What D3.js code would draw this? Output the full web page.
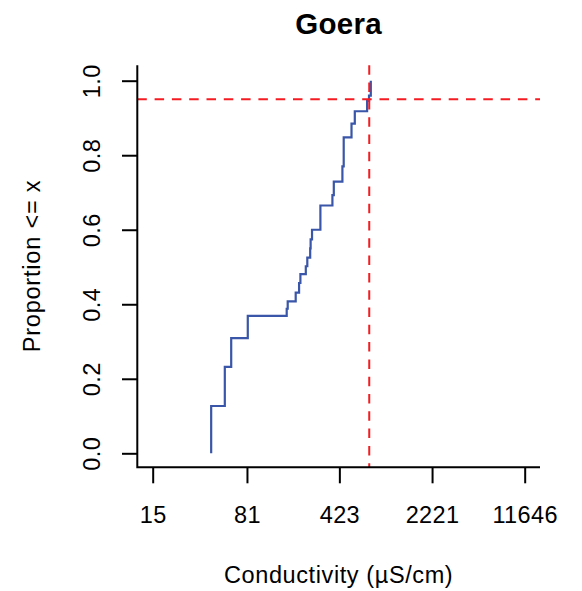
<!DOCTYPE html>
<html><head><meta charset="utf-8">
<script src="https://cdn.jsdelivr.net/npm/d3@7"></script>
<style>body{margin:0;background:#fff} svg text{font-family:"Liberation Sans",Arial,Helvetica,sans-serif;fill:#000}</style>
</head><body><svg id="c" width="582" height="591"></svg>
<script>
// ---- data ----
const chartTitle = "Goera";
const xLabel = "Conductivity (µS/cm)";
const yLabel = "Proportion <= x";
const conductivity = [42.7, 54.5, 61.1, 82.2, 164.9, 167.9, 193.7, 205.8, 210.7, 232.1, 238.4, 251.0, 253.0, 259.4, 301.3, 373.6, 383.0, 446.7, 457.2, 525.7, 557.6, 695.0, 719.0, 742.5];
const proportion   = [0.127, 0.232, 0.309, 0.369, 0.388, 0.408, 0.431, 0.457, 0.481, 0.502, 0.525, 0.550, 0.574, 0.600, 0.665, 0.693, 0.729, 0.770, 0.848, 0.885, 0.918, 0.946, 0.960, 1.0];
const xTickLabels = [15, 81, 423, 2221, 11646];
const yTickValues = [0, 0.2, 0.4, 0.6, 0.8, 1.0];
const refProportion = 0.95;
const refConductivity = 722;
const xLimits = [11.39, 15315];
const yLimits = [0, 1];

// ---- layout ----
const plot = {left: 137.3, right: 540, top: 65.3, bottom: 467.3};
const svg = d3.select("#c");
const x = d3.scaleLog().domain(xLimits).range([plot.left, plot.right]);
const y = d3.scaleLinear().domain(yLimits).range([453.3, 80.7]);
const fontSize = 23.5, ls = 0.4;
const ff = '"Liberation Sans",Arial,Helvetica,sans-serif';

// ECDF step line
const pts = [[conductivity[0], 0]].concat(conductivity.map((c, i) => [c, proportion[i]]));
const line = d3.line().x(d => x(d[0])).y(d => y(d[1])).curve(d3.curveStepAfter);
svg.append("path").attr("d", line(pts))
  .attr("fill", "none").attr("stroke", "#3a56a8").attr("stroke-width", 2.2);

// reference dashed lines
svg.append("line").attr("x1", plot.left).attr("x2", plot.right)
  .attr("y1", y(refProportion)).attr("y2", y(refProportion))
  .attr("stroke", "#f41c22").attr("stroke-width", 2).attr("stroke-dasharray", "9.5,7.8");
svg.append("line").attr("x1", x(refConductivity)).attr("x2", x(refConductivity))
  .attr("y1", plot.top).attr("y2", plot.bottom)
  .attr("stroke", "#f41c22").attr("stroke-width", 2).attr("stroke-dasharray", "9.5,7.8");

// L box
svg.append("path")
  .attr("d", `M${plot.left},${plot.top}V${plot.bottom}H${plot.right}`)
  .attr("fill", "none").attr("stroke", "#000").attr("stroke-width", 2);

// x axis
const gx = svg.append("g").attr("transform", `translate(0,${plot.bottom})`)
  .call(d3.axisBottom(x).tickValues(xTickLabels).tickFormat(d3.format("d")).tickSize(16).tickSizeOuter(0));
gx.select(".domain").remove();
gx.selectAll(".tick line").attr("stroke", "#000").attr("stroke-width", 2);
gx.selectAll(".tick text").attr("y", 55.3).attr("dy", null)
  .attr("font-size", fontSize).attr("letter-spacing", ls).attr("fill", "#000")
  .style("font-family", ff);

// y axis
const gy = svg.append("g").attr("transform", `translate(${plot.left},0)`)
  .call(d3.axisLeft(y).tickValues(yTickValues).tickFormat(d3.format(".1f")).tickSize(15.3).tickSizeOuter(0));
gy.select(".domain").remove();
gy.selectAll(".tick line").attr("stroke", "#000").attr("stroke-width", 2);
gy.selectAll(".tick text").attr("x", 0).attr("dy", null)
  .attr("transform", "translate(-37,0) rotate(-90)")
  .attr("text-anchor", "middle")
  .attr("font-size", fontSize).attr("letter-spacing", ls).attr("fill", "#000")
  .style("font-family", ff);

// titles
svg.append("text").attr("x", (plot.left + plot.right) / 2).attr("y", 33.5)
  .attr("text-anchor", "middle").attr("font-size", 29.5).attr("font-weight", "bold")
  .attr("letter-spacing", 0.3).text(chartTitle);
svg.append("text").attr("x", (plot.left + plot.right) / 2).attr("y", 583)
  .attr("text-anchor", "middle").attr("font-size", fontSize).attr("letter-spacing", 0.6).text(xLabel);
svg.append("text").attr("transform", `translate(39.5,266) rotate(-90)`)
  .attr("text-anchor", "middle").attr("font-size", fontSize).attr("letter-spacing", 0.8).text(yLabel);
</script></body></html>
